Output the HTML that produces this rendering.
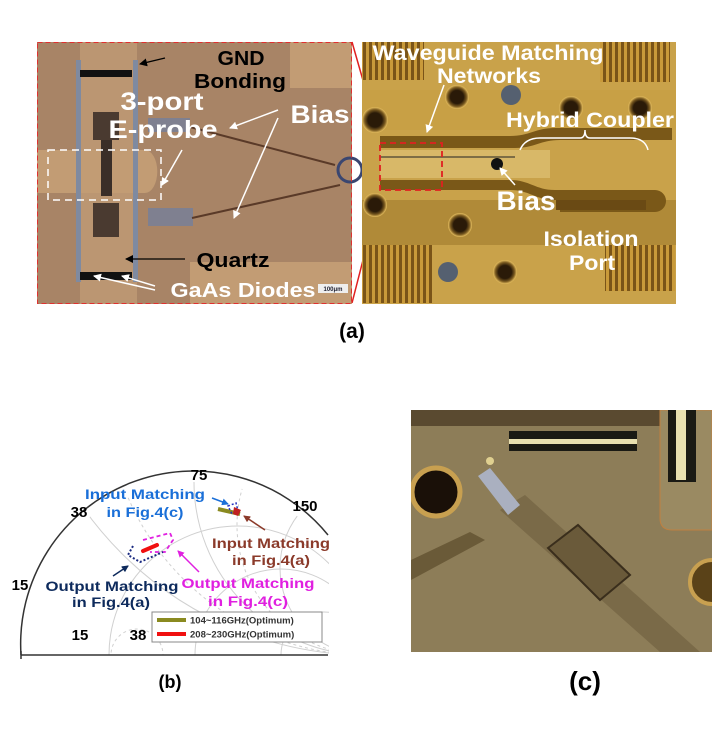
<!DOCTYPE html>
<html><head><meta charset="utf-8"><style>
html,body{margin:0;padding:0;background:#fff;overflow:hidden;width:715px;height:741px;}
svg{display:block;}
text{font-family:"Liberation Sans",Arial,sans-serif;font-weight:bold;}
</style></head><body>
<svg width="715" height="741" viewBox="0 0 715 741" xmlns="http://www.w3.org/2000/svg">
<defs>
<pattern id="thr" width="6" height="10" patternUnits="userSpaceOnUse">
<rect width="6" height="10" fill="#c99a3a"/><rect x="3" width="3" height="10" fill="#7a5418"/>
</pattern>
<radialGradient id="hole"><stop offset="0.55" stop-color="#2a1a08"/><stop offset="0.8" stop-color="#7a5a20"/><stop offset="1" stop-color="#e8c060"/></radialGradient>
<marker id="ab" markerWidth="8" markerHeight="8" refX="7" refY="4" orient="auto" markerUnits="userSpaceOnUse"><path d="M0,0L8,4L0,8z" fill="#000"/></marker>
<marker id="aw" markerWidth="8" markerHeight="8" refX="7" refY="4" orient="auto" markerUnits="userSpaceOnUse"><path d="M0,0L8,4L0,8z" fill="#fff"/></marker>
<marker id="ablue" markerWidth="7" markerHeight="7" refX="6" refY="3.5" orient="auto" markerUnits="userSpaceOnUse"><path d="M0,0L7,3.5L0,7z" fill="#1a6fd8"/></marker>
<marker id="abr" markerWidth="7" markerHeight="7" refX="6" refY="3.5" orient="auto" markerUnits="userSpaceOnUse"><path d="M0,0L7,3.5L0,7z" fill="#8b3a2a"/></marker>
<marker id="anv" markerWidth="7" markerHeight="7" refX="6" refY="3.5" orient="auto" markerUnits="userSpaceOnUse"><path d="M0,0L7,3.5L0,7z" fill="#0d2a5c"/></marker>
<marker id="amg" markerWidth="7" markerHeight="7" refX="6" refY="3.5" orient="auto" markerUnits="userSpaceOnUse"><path d="M0,0L7,3.5L0,7z" fill="#e020e0"/></marker>
<clipPath id="cb"><rect x="0" y="400" width="329" height="256"/></clipPath>
<clipPath id="cc"><path d="M21,655A173,173 0 0 1 367,655z"/></clipPath>
</defs>

<!-- (a) left photo -->
<rect x="37" y="42" width="315" height="262" fill="#a88466"/>
<rect x="290" y="42" width="62" height="46" fill="#c29c74"/>
<rect x="190" y="262" width="162" height="42" fill="#c29c74"/>
<rect x="80" y="42" width="57" height="262" fill="#bb9672"/>
<path d="M37,150H145A12,21 0 0 1 145,193H37z" fill="#c29c74"/>
<rect x="76" y="60" width="5" height="222" fill="#7f8aa0"/>
<rect x="133" y="60" width="5" height="222" fill="#7f8aa0"/>
<rect x="80" y="70" width="52" height="7" fill="#111"/>
<rect x="80" y="272" width="52" height="8" fill="#111"/>
<rect x="93" y="112" width="26" height="28" fill="#4a3a30"/>
<rect x="101" y="140" width="11" height="56" fill="#3a2e28"/>
<rect x="93" y="203" width="26" height="34" fill="#4a3a30"/>
<rect x="148" y="118" width="42" height="14" fill="#7f8090"/>
<rect x="148" y="208" width="45" height="18" fill="#7f8090"/>
<line x1="190" y1="127" x2="335" y2="165" stroke="#5a3a28" stroke-width="2"/>
<line x1="192" y1="218" x2="340" y2="185" stroke="#5a3a28" stroke-width="2"/>
<circle cx="350" cy="170" r="12" fill="none" stroke="#3a4670" stroke-width="3"/>
<rect x="48" y="150" width="113" height="50" fill="none" stroke="#fff" stroke-width="1.5" stroke-dasharray="7,5"/>
<rect x="37.5" y="42.5" width="314" height="261" fill="none" stroke="#e03030" stroke-width="1" stroke-dasharray="5,3"/>
<rect x="318" y="284" width="30" height="9" fill="#eee"/>
<text x="333" y="291" font-size="6" text-anchor="middle" font-weight="normal" fill="#223">100μm</text>

<!-- left labels -->
<line x1="165" y1="58" x2="140" y2="64" stroke="#000" stroke-width="1.3" marker-end="url(#ab)"/>
<text x="241" y="65" font-size="20" text-anchor="middle" textLength="47" lengthAdjust="spacingAndGlyphs">GND</text>
<text x="240" y="88" font-size="20" text-anchor="middle" textLength="92" lengthAdjust="spacingAndGlyphs">Bonding</text>
<text x="162" y="110" font-size="25" fill="#fff" text-anchor="middle" textLength="83" lengthAdjust="spacingAndGlyphs">3-port</text>
<text x="163" y="138" font-size="25" fill="#fff" text-anchor="middle" textLength="109" lengthAdjust="spacingAndGlyphs">E-probe</text>
<line x1="182" y1="150" x2="162" y2="185" stroke="#fff" stroke-width="1.5" marker-end="url(#aw)"/>
<text x="320" y="123" font-size="25" fill="#fff" text-anchor="middle" textLength="59" lengthAdjust="spacingAndGlyphs">Bias</text>
<line x1="278" y1="110" x2="230" y2="128" stroke="#fff" stroke-width="1.5" marker-end="url(#aw)"/>
<line x1="278" y1="118" x2="234" y2="218" stroke="#fff" stroke-width="1.5" marker-end="url(#aw)"/>
<text x="233" y="267" font-size="20" text-anchor="middle" textLength="73" lengthAdjust="spacingAndGlyphs">Quartz</text>
<line x1="185" y1="259" x2="126" y2="259" stroke="#000" stroke-width="1.3" marker-end="url(#ab)"/>
<text x="243" y="297" font-size="20" fill="#fff" text-anchor="middle" textLength="145" lengthAdjust="spacingAndGlyphs">GaAs Diodes</text>
<line x1="155" y1="290" x2="94" y2="276" stroke="#fff" stroke-width="1.5" marker-end="url(#aw)"/>
<line x1="155" y1="286" x2="122" y2="276" stroke="#fff" stroke-width="1.5" marker-end="url(#aw)"/>

<!-- red zoom lines -->
<line x1="352" y1="42" x2="381" y2="143" stroke="#e02020" stroke-width="1.5"/>
<line x1="352" y1="303" x2="381" y2="190" stroke="#e02020" stroke-width="1.5"/>

<!-- (a) right photo -->
<rect x="362" y="42" width="314" height="262" fill="#c9a24a"/>
<rect x="362" y="42" width="62" height="38" fill="url(#thr)"/>
<rect x="600" y="42" width="70" height="40" fill="url(#thr)"/>
<rect x="362" y="245" width="70" height="58" fill="url(#thr)"/>
<rect x="605" y="235" width="70" height="56" fill="url(#thr)"/>
<rect x="362" y="90" width="314" height="40" fill="#c8a045"/>
<rect x="362" y="200" width="314" height="45" fill="#b08a38"/>
<path d="M380,136H510C530,136 535,128 555,128H672V140H560C540,140 535,148 515,148H380z" fill="#7a5818"/>
<path d="M380,180H510C530,180 535,190 555,190H655A10,10 0 0 1 655,212H560V200H645V200H555C535,200 530,190 510,190H380z" fill="#7a5818"/>
<rect x="556" y="200" width="90" height="10" fill="#6a4a14"/>
<rect x="380" y="150" width="170" height="28" fill="#d8b868"/>
<line x1="380" y1="157" x2="515" y2="157" stroke="#222" stroke-width="1"/>
<circle cx="497" cy="164" r="6" fill="#111"/>
<circle cx="375" cy="120" r="13" fill="url(#hole)"/>
<circle cx="457" cy="97" r="12" fill="url(#hole)"/>
<circle cx="571" cy="108" r="12" fill="url(#hole)"/>
<circle cx="640" cy="108" r="12" fill="url(#hole)"/>
<circle cx="375" cy="205" r="12" fill="url(#hole)"/>
<circle cx="460" cy="225" r="12" fill="url(#hole)"/>
<circle cx="505" cy="272" r="12" fill="url(#hole)"/>
<circle cx="511" cy="95" r="10" fill="#556070"/>
<circle cx="448" cy="272" r="10" fill="#556070"/>
<rect x="380" y="143" width="62" height="47" fill="none" stroke="#e02020" stroke-width="1.8" stroke-dasharray="6,4"/>
<text x="488" y="60" font-size="21" fill="#fff" text-anchor="middle" textLength="231" lengthAdjust="spacingAndGlyphs">Waveguide Matching</text>
<text x="489" y="83" font-size="21" fill="#fff" text-anchor="middle" textLength="104" lengthAdjust="spacingAndGlyphs">Networks</text>
<line x1="444" y1="85" x2="427" y2="132" stroke="#fff" stroke-width="1.5" marker-end="url(#aw)"/>
<text x="590" y="127" font-size="21" fill="#fff" text-anchor="middle" textLength="168" lengthAdjust="spacingAndGlyphs">Hybrid Coupler</text>
<path d="M520,150Q525,138 540,138H580Q585,138 585,130Q585,138 590,138H630Q645,138 648,150" fill="none" stroke="#fff" stroke-width="1.5"/>
<text x="526" y="210" font-size="27" fill="#fff" text-anchor="middle" textLength="59" lengthAdjust="spacingAndGlyphs">Bias</text>
<line x1="515" y1="185" x2="500" y2="168" stroke="#fff" stroke-width="1.5" marker-end="url(#aw)"/>
<text x="591" y="246" font-size="21" fill="#fff" text-anchor="middle" textLength="95" lengthAdjust="spacingAndGlyphs">Isolation</text>
<text x="592" y="270" font-size="21" fill="#fff" text-anchor="middle" textLength="46" lengthAdjust="spacingAndGlyphs">Port</text>

<text x="352" y="338" font-size="21" text-anchor="middle">(a)</text>

<!-- (b) Smith chart -->
<g clip-path="url(#cb)">
<g clip-path="url(#cc)" fill="none" stroke="#d0d0d0" stroke-width="1">
<circle cx="238" cy="655" r="129"/>
<circle cx="281" cy="655" r="86"/>
<circle cx="324" cy="655" r="43"/>
<circle cx="137" cy="655" r="26" stroke-dasharray="3,3"/>
<circle cx="367" cy="482" r="173"/>
<circle cx="367" cy="308" r="347"/>
<circle cx="367" cy="568" r="87"/>
<circle cx="367" cy="395" r="260" stroke-dasharray="3,3"/>
<circle cx="367" cy="525" r="130" stroke-dasharray="3,3"/>
</g>
</g>
<path d="M21,655A173,173 0 0 1 328,535" fill="none" stroke="#333" stroke-width="1.5" clip-path="url(#cb)"/>
<line x1="21" y1="655" x2="328" y2="655" stroke="#333" stroke-width="1.5"/>
<line x1="21" y1="651" x2="21" y2="659" stroke="#333" stroke-width="1.5"/>

<!-- data -->
<line x1="218" y1="509" x2="240" y2="514" stroke="#8a8a20" stroke-width="4"/>
<path d="M228,506L236,503L238,511L232,514z" fill="none" stroke="#2030c0" stroke-width="1.5" stroke-dasharray="2,2"/>
<path d="M234,507L241,510L238,516L233,514z" fill="#c02020"/>
<line x1="143" y1="551" x2="157" y2="545" stroke="#f01010" stroke-width="4" stroke-linecap="round"/>
<path d="M143,540L170,533L173,540L165,552L150,552" fill="none" stroke="#e020e0" stroke-width="1.8" stroke-dasharray="4,3"/>
<path d="M133,546L128,555L140,562L163,552" fill="none" stroke="#1a2a80" stroke-width="2" stroke-dasharray="2,2"/>
<line x1="212" y1="498" x2="228" y2="504" stroke="#1a6fd8" stroke-width="1.5" marker-end="url(#ablue)"/>
<line x1="265" y1="530" x2="244" y2="516" stroke="#8b3a2a" stroke-width="1.5" marker-end="url(#abr)"/>
<line x1="113" y1="576" x2="128" y2="566" stroke="#0d2a5c" stroke-width="1.5" marker-end="url(#anv)"/>
<line x1="199" y1="572" x2="178" y2="551" stroke="#e020e0" stroke-width="1.5" marker-end="url(#amg)"/>

<g font-size="15">
<text x="199" y="480" text-anchor="middle">75</text>
<text x="79" y="517" text-anchor="middle">38</text>
<text x="305" y="511" text-anchor="middle">150</text>
<text x="20" y="590" text-anchor="middle">15</text>
<text x="80" y="640" text-anchor="middle">15</text>
<text x="138" y="640" text-anchor="middle">38</text>
<text x="198" y="640" text-anchor="middle">75</text>
<text x="256" y="640" text-anchor="middle">150</text>
</g>
<g font-size="14" text-anchor="middle">
<text x="145" y="499" fill="#1a6fd8" textLength="120" lengthAdjust="spacingAndGlyphs">Input Matching</text>
<text x="145" y="517" fill="#1a6fd8" textLength="77" lengthAdjust="spacingAndGlyphs">in Fig.4(c)</text>
<text x="271" y="548" fill="#8b3a2a" textLength="118" lengthAdjust="spacingAndGlyphs">Input Matching</text>
<text x="271" y="565" fill="#8b3a2a" textLength="78" lengthAdjust="spacingAndGlyphs">in Fig.4(a)</text>
<text x="112" y="591" fill="#0d2a5c" textLength="133" lengthAdjust="spacingAndGlyphs">Output Matching</text>
<text x="111" y="607" fill="#0d2a5c" textLength="78" lengthAdjust="spacingAndGlyphs">in Fig.4(a)</text>
<text x="248" y="588" fill="#e020e0" textLength="133" lengthAdjust="spacingAndGlyphs">Output Matching</text>
<text x="248" y="606" fill="#e020e0" textLength="80" lengthAdjust="spacingAndGlyphs">in Fig.4(c)</text>
</g>
<rect x="152" y="612" width="170" height="30" fill="#fff" stroke="#888" stroke-width="1"/>
<line x1="157" y1="620" x2="186" y2="620" stroke="#8a8a20" stroke-width="4"/>
<line x1="157" y1="634" x2="186" y2="634" stroke="#f01010" stroke-width="4"/>
<text x="190" y="623.5" font-size="9.5" font-weight="normal" fill="#333">104~116GHz(Optimum)</text>
<text x="190" y="637.5" font-size="9.5" font-weight="normal" fill="#333">208~230GHz(Optimum)</text>
<text x="170" y="688" font-size="18" text-anchor="middle">(b)</text>

<!-- (c) photo -->
<svg x="411" y="410" width="301" height="242" viewBox="411 410 301 242">
<rect x="411" y="410" width="301" height="242" fill="#8d7d58"/>
<rect x="411" y="410" width="301" height="16" fill="#5a4a30"/>
<path d="M660,410H712V530H672Q660,530 660,518z" fill="#9a8a62" stroke="#c08040" stroke-width="1"/>
<rect x="509" y="431" width="128" height="20" fill="#1a1a14"/>
<rect x="509" y="439" width="128" height="5" fill="#e8e0b0"/>
<rect x="668" y="410" width="28" height="72" fill="#1a1a14"/>
<rect x="676" y="410" width="10" height="70" fill="#e8e0b0"/>
<circle cx="436" cy="492" r="24" fill="#1a1008" stroke="#c8a050" stroke-width="5"/>
<circle cx="712" cy="582" r="22" fill="#5a4218" stroke="#c8a050" stroke-width="4"/>
<path d="M411,560L470,532L485,540L411,580z" fill="#6a5a38"/>
<path d="M500,510L525,495L700,652H660z" fill="#7a6a48"/>
<path d="M548,548L578,525L630,575L600,600z" fill="#6a5a3a" stroke="#3a2e1c" stroke-width="2"/>
<path d="M478,476L490,468L520,505L508,515z" fill="#aab0c0"/>
<circle cx="490" cy="461" r="4" fill="#e0d090"/>
</svg>
<text x="585" y="690" font-size="26" text-anchor="middle">(c)</text>
</svg>
</body></html>
